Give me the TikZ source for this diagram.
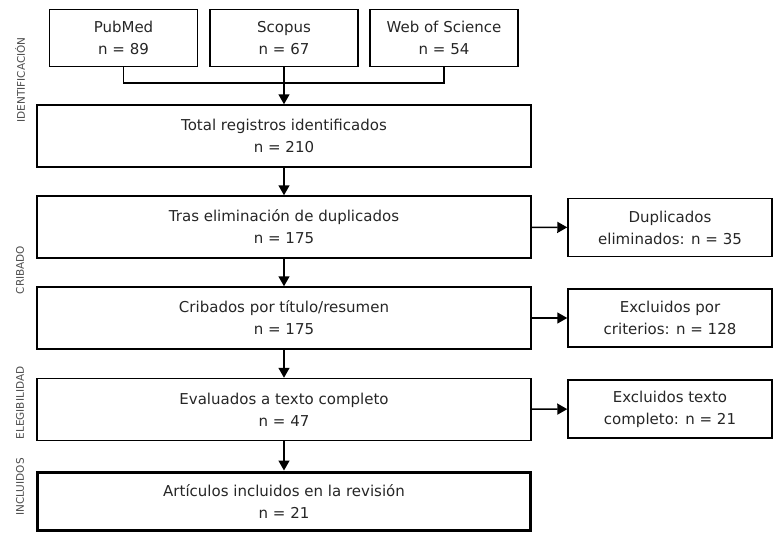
\documentclass[tikz,border=0pt]{standalone}
\usepackage{fontspec}
\setmainfont{DejaVu Sans}
\usetikzlibrary{arrows.meta}

\tikzset{
  mainbox/.style={draw, line width=1.5pt, minimum width=494pt, minimum height=62pt, align=center, inner sep=2pt, text=black!85, font=\fontsize{15}{22}\selectfont},
  sidebox/.style={draw, line width=1.5pt, minimum width=204pt, minimum height=58pt, align=center, inner sep=2pt, text=black!85, font=\fontsize{15}{22}\selectfont},
  srcbox/.style={draw, line width=1.5pt, minimum width=148pt, minimum height=57pt, align=center, inner sep=2pt, text=black!85, font=\fontsize{15}{22}\selectfont},
  phase/.style={rotate=90, inner sep=0pt, text=black!70, font=\fontsize{10.5}{11}\selectfont},
  flow/.style={line width=1.5pt, -{Triangle[width=11pt,length=10pt]}}
}

\begin{document}
\begin{tikzpicture}[x=1pt,y=-1pt]
\useasboundingbox (0,0) rectangle (774,533);

% sources
\node[srcbox] (pubmed) at (123.5,38) {PubMed\\n = 89};
\node[srcbox] (scopus) at (284,38) {Scopus\\n = 67};
\node[srcbox] (wos) at (444,38) {Web of Science\\n = 54};

% main column
\node[mainbox] (total) at (284,136) {Total registros identificados\\n = 210};
\node[mainbox] (dedup) at (284,227) {Tras eliminación de duplicados\\n = 175};
\node[mainbox] (screen) at (284,318) {Cribados por título/resumen\\n = 175};
\node[mainbox] (fulltext) at (284,409.5) {Evaluados a texto completo\\n = 47};
\node[mainbox, line width=3pt, minimum width=493pt, minimum height=58pt] (included) at (284,501) {Artículos incluidos en la revisión\\n = 21};

% exclusions
\node[sidebox] (dupl) at (670,227.5) {Duplicados\\eliminados: n = 35};
\node[sidebox] (excl) at (670,318) {Excluidos por\\criterios: n = 128};
\node[sidebox] (exclft) at (670,409) {Excluidos texto\\completo: n = 21};

% phase labels
\node[phase] (lblid) at (20,80) {IDENTIFICACIÓN};
\node[phase] (lblcrib) at (20,270) {CRIBADO};
\node[phase] (lblelig) at (20,403) {ELEGIBILIDAD};
\node[phase] (lblincl) at (20,487) {INCLUIDOS};

% connectors
\coordinate (join) at (284,83);
\draw[line width=1.5pt] (pubmed.south) |- (join) -| (wos.south);
\draw[flow] (scopus.south) -- (total.north);
\draw[flow] (total) -- (dedup);
\draw[flow] (dedup) -- (screen);
\draw[flow] (screen) -- (fulltext);
\draw[flow] (fulltext) -- (included);
\draw[flow] (dedup) -- (dupl);
\draw[flow] (screen) -- (excl);
\draw[flow] (fulltext) -- (exclft);

\end{tikzpicture}
\end{document}
